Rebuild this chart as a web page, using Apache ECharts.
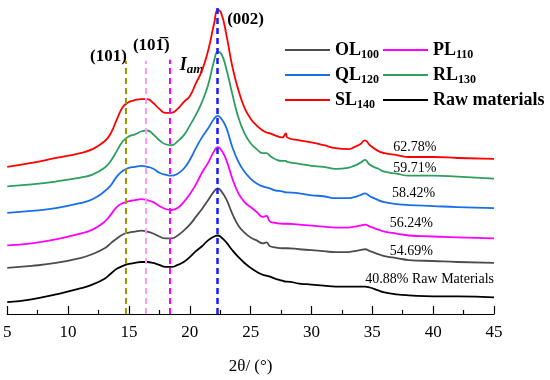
<!DOCTYPE html>
<html><head><meta charset="utf-8">
<script src="https://cdn.jsdelivr.net/npm/echarts@6/dist/echarts.min.js"></script>
<style>html,body{margin:0;padding:0;background:#fff}#c{width:550px;height:380px}</style>
</head><body><div id="c"></div>
<script>
// 2θ positions (degrees)
const twoTheta = [5,7,9,11,12,13,13.5,14,14.5,15,15.5,16,16.5,17,17.5,18,18.5,19,19.5,20,20.5,21,21.5,22,22.3,22.6,23,23.5,24,24.5,25,25.5,26,26.3,26.6,27,27.6,27.9,28,29,30,31,32,33,33.5,34,34.4,34.8,35.5,36,37,38,40,42,45];
// stacked intensities (a.u., offset for display)
const SL140 = [150,154,159,164,168,176,184,198,211,216,218,219,219,215,209,205,205,209,216,222,235,248,268,296,310,306,285,252,228,210,199,192,187,185,184,182,180,184,180,177,175,172,169,168,170,173,177,172,166,164,162,160,160,159,158];
const RL130 = [130,132,135,139,142,149,156,166,176,181,183,186,187,183,177,173,172,176,182,192,203,216,233,258,267,265,250,224,200,184,174,168,164,164,161,158,156,156,155,153,151,150,148,149,151,154,157,152,148,145,143,141,141,140,138];
const QL120 = [103,105,108,113,117,125,131,140,146,149,150,151,150,148,144,142,141,143,148,157,169,180,189,199,202,199,190,170,155,145,138,133,130,129,128,126,125,124,124,123,121,120,118,118,119,121,123,120,116,114,112,111,110,109,108];
const PL110 = [70,72,76,82,86,94,101,109,113,115,116,117,116,114,110,107,106,108,114,122,132,144,154,166,170,167,157,138,123,114,109,104,99,100,94,93,92,92,92,91,90,89,88,88,89,90,91,89,86,84,82,80,79,78,77];
const OL100 = [47,49,52,57,61,67,72,77,81,83,84,85,84,82,79,77,77,80,85,91,99,107,116,125,128,125,117,102,90,83,78,75,72,73,69,68,67,67,67,66,65,64,63,63,64,65,66,64,61,59,57,55,54,53,52];
const rawMaterials = [12,15,20,26,30,36,41,46,49,51,52,53,53,52,50,48,48,50,53,58,64,69,75,79,80,78,73,65,58,52,47,43,40,39,38,36,34,33,33,31,30,29,28,28,28,28,28,27,24,22,20,19,18,18,17];
// reflections
const peakLabels = ['(101)', '(101\u0305)', 'Iam', '(002)'];
const peakPos = [14.75, 16.35, 18.35, 22.25];
const peakTop = [258, 258, 259, 316];
// crystallinity index labels
const crystallinity = ['62.78%', '59.71%', '58.42%', '56.24%', '54.69%', '40.88% Raw Materials'];
const xTicks = [5, 10, 15, 20, 25, 30, 35, 40, 45];

const FONT = '"Liberation Serif", "Times New Roman", serif';
const chart = echarts.init(document.getElementById('c'), null, {renderer: 'canvas'});

const defs = [
  {name: 'Raw materials', data: rawMaterials, color: '#000000'},
  {name: 'OL100', data: OL100, color: '#4d4d4d'},
  {name: 'PL110', data: PL110, color: '#ff00ff'},
  {name: 'QL120', data: QL120, color: '#1a6fe6'},
  {name: 'RL130', data: RL130, color: '#2e9e5e'},
  {name: 'SL140', data: SL140, color: '#ff0000'}
];
const peakColors = ['#9a9a00', '#ff99ff', '#ff00ff', '#1a1aff'];

const series = defs.map((d, k) => ({
  name: d.name, type: 'line', data: twoTheta.map((x, i) => [x, d.data[i]]),
  showSymbol: false, symbol: 'none', smooth: 0.5,
  lineStyle: {color: d.color, width: 1.8}, itemStyle: {color: d.color},
  animation: false, z: 2,
  markLine: k === 0 ? {
    silent: true, symbol: ['none', 'none'], label: {show: false}, animation: false,
    data: peakPos.map((x, i) => [
      {coord: [x, 0], lineStyle: {color: peakColors[i], width: i === 3 ? 2.5 : 2, type: [6, 4]}},
      {coord: [x, peakTop[i]]}
    ])
  } : undefined
}));

const fmt = name => {
  const m = name.match(/^([A-Z]+)(\d+)$/);
  return m ? '{b|' + m[1] + '}{s|' + m[2] + '}' : '{b|' + name + '}';
};
const legendRich = {
  b: {fontFamily: FONT, fontSize: 18, fontWeight: 'bold', color: '#000', lineHeight: 22},
  s: {fontFamily: FONT, fontSize: 12, fontWeight: 'bold', color: '#000', lineHeight: 14, verticalAlign: 'bottom'}
};
const legendBase = {
  orient: 'vertical', top: 36, itemWidth: 45, itemHeight: 2, itemGap: 5, icon: 'rect',
  formatter: fmt, textStyle: {rich: legendRich}, selectedMode: false
};

chart.setOption({
  animation: false,
  backgroundColor: '#ffffff',
  grid: {left: 7, right: 56, top: 0, bottom: 60, containLabel: false},
  legend: [
    Object.assign({left: 280, data: ['OL100', 'QL120', 'SL140']}, legendBase),
    Object.assign({left: 378, data: ['PL110', 'RL130', 'Raw materials']}, legendBase)
  ],
  xAxis: {
    type: 'value', min: xTicks[0], max: xTicks[xTicks.length - 1], interval: xTicks[1] - xTicks[0],
    name: '2θ/ (°)', nameLocation: 'middle', nameGap: 44,
    nameTextStyle: {fontFamily: FONT, fontSize: 17, color: '#000'},
    axisLine: {show: true, lineStyle: {color: '#000', width: 1.2}},
    axisTick: {show: true, inside: true, length: 8, lineStyle: {color: '#000', width: 1.2}},
    minorTick: {show: true, splitNumber: 2, length: 4, lineStyle: {color: '#000', width: 1.2}},
    axisLabel: {fontFamily: FONT, fontSize: 17, color: '#000', margin: 10},
    splitLine: {show: false}
  },
  yAxis: {type: 'value', min: 0, max: 320, show: false, splitLine: {show: false}},
  series: series
});

const px = (x, y) => chart.convertToPixel({gridIndex: 0}, [x, y]);
const bold = {fontFamily: FONT, fontSize: 17, fontWeight: 'bold', fill: '#000'};
const g = [];
let p = px(peakPos[0], peakTop[0]);
g.push({type: 'text', x: p[0] + 1, y: p[1] - 4, style: Object.assign({text: peakLabels[0], align: 'right', verticalAlign: 'middle'}, bold)});
p = px(peakPos[1], peakTop[1]);
g.push({type: 'text', x: p[0] + 6, y: p[1] - 15, style: Object.assign({text: peakLabels[1], align: 'center', verticalAlign: 'middle'}, bold)});
p = px(peakPos[2], peakTop[2]);
g.push({type: 'text', x: p[0] + 10, y: p[1] + 5, style: {
  text: '{i|' + peakLabels[2].charAt(0) + '}{s|' + peakLabels[2].slice(1) + '}', align: 'left', verticalAlign: 'middle',
  rich: {
    i: {fontFamily: FONT, fontSize: 18, fontWeight: 'bold', fontStyle: 'italic', fill: '#000', lineHeight: 22},
    s: {fontFamily: FONT, fontSize: 13, fontWeight: 'bold', fontStyle: 'italic', fill: '#000', lineHeight: 14, verticalAlign: 'bottom'}
  }
}});
p = px(peakPos[3], peakTop[3]);
g.push({type: 'text', x: p[0] + 10, y: p[1] + 16, style: Object.assign({text: peakLabels[3], align: 'left', verticalAlign: 'middle'}, bold)});

const lab = [[38.5, 170, 'center'], [38.5, 148, 'center'], [38.4, 123, 'center'], [38.2, 92, 'center'], [38.2, 64, 'center'], [45, 35, 'right']];
lab.forEach((l, i) => {
  const q = px(l[0], l[1]);
  g.push({type: 'text', x: q[0], y: q[1], style: {text: crystallinity[i], align: l[2], verticalAlign: 'middle', fontFamily: FONT, fontSize: 14, fill: '#000'}});
});
chart.setOption({graphic: g});
</script>
</body></html>
